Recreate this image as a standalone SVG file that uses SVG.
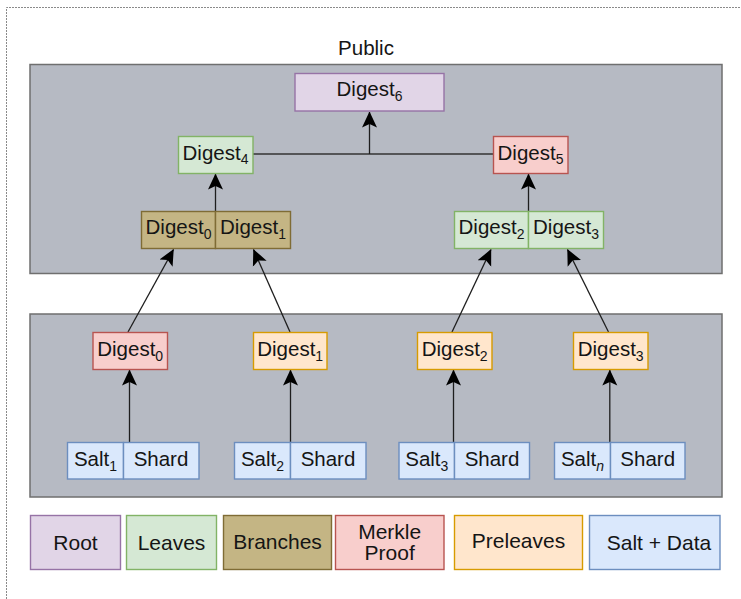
<svg xmlns="http://www.w3.org/2000/svg" width="741" height="599" viewBox="0 0 741 599">
<defs>
<style>
text{font-family:"Liberation Sans",Arial,sans-serif;font-size:20.5px;fill:#151515;text-anchor:middle}
.sub{font-size:14px}
.lg{font-size:21px}
.panel{fill:#b6bac3;stroke:#6f6f6f;stroke-width:1.5}
.n{stroke-width:1.4}
.root{fill:#e1d5e7;stroke:#9673a6}
.leaf{fill:#d5e8d4;stroke:#82b366}
.br{fill:#c4b584;stroke:#7f6c35}
.mp{fill:#f8cecc;stroke:#b85450}
.pre{fill:#ffe6cc;stroke:#d79b00}
.sd{fill:#dae8fc;stroke:#6c8ebf}
.e{fill:none;stroke:#1e1e1e;stroke-width:1.3}
.h{stroke:#333;stroke-width:1.7}
.ea{marker-end:url(#arr)}
</style>
<marker id="arr" viewBox="0 0 16 16" refX="15.5" refY="8" markerWidth="16" markerHeight="16" markerUnits="userSpaceOnUse" orient="auto">
<path d="M16,8 L0,0.5 L3.5,8 L0,15.5 Z" fill="#000"/>
</marker>
</defs>
<rect width="741" height="599" fill="#fff"/>
<path d="M6.5,599 V7.5 H741" fill="none" stroke="#8a8a8a" stroke-width="1" stroke-dasharray="2 1"/>
<text id="label-public" x="366" y="55">Public</text>
<rect id="panel-public" class="panel" x="30" y="64.5" width="692" height="209"/>
<rect id="panel-private" class="panel" x="30" y="314" width="692" height="183"/>

<g id="connectors">
<path class="e h" d="M253,154 H493"/>
<path class="e ea" d="M369.5,154 V112"/>
<path class="e ea" d="M215.5,211.5 V174"/>
<path class="e ea" d="M528.5,211.5 V174"/>
<path class="e ea" d="M128,332 L173.5,249.5"/>
<path class="e ea" d="M290,332 L253.5,249.5"/>
<path class="e ea" d="M452,332 L491,249.5"/>
<path class="e ea" d="M608.5,332 L567.5,249.5"/>
<path class="e ea" d="M129.5,442.5 V370"/>
<path class="e ea" d="M290.5,442.5 V370"/>
<path class="e ea" d="M453.5,442.5 V370"/>
<path class="e ea" d="M609.8,442.5 V370"/>
</g>

<g id="digest6"><rect class="n root" x="295" y="73.5" width="149" height="37.5"/><text x="369.5" y="96">Digest<tspan class="sub" dy="4.5">6</tspan></text></g>
<g id="digest4"><rect class="n leaf" x="178.5" y="136.5" width="74.5" height="37"/><text x="215.5" y="159.5">Digest<tspan class="sub" dy="4.5">4</tspan></text></g>
<g id="digest5"><rect class="n mp" x="493.5" y="136.5" width="74.5" height="37"/><text x="530.5" y="159.5">Digest<tspan class="sub" dy="4.5">5</tspan></text></g>

<g id="branch-01">
<rect class="n br" x="141.5" y="211.5" width="74" height="37"/><rect class="n br" x="215.5" y="211.5" width="75" height="37"/>
<text x="178.5" y="234">Digest<tspan class="sub" dy="4.5">0</tspan></text>
<text x="253" y="234">Digest<tspan class="sub" dy="4.5">1</tspan></text>
</g>
<g id="leaves-23">
<rect class="n leaf" x="454.5" y="211.5" width="74" height="37"/><rect class="n leaf" x="528.5" y="211.5" width="75" height="37"/>
<text x="491.5" y="234">Digest<tspan class="sub" dy="4.5">2</tspan></text>
<text x="566" y="234">Digest<tspan class="sub" dy="4.5">3</tspan></text>
</g>

<g id="pre-digest0"><rect class="n mp" x="93" y="332.5" width="74.5" height="37"/><text x="130.2" y="356">Digest<tspan class="sub" dy="4.5">0</tspan></text></g>
<g id="pre-digest1"><rect class="n pre" x="253.5" y="332.5" width="73.5" height="37"/><text x="290.2" y="356">Digest<tspan class="sub" dy="4.5">1</tspan></text></g>
<g id="pre-digest2"><rect class="n pre" x="417.5" y="332.5" width="74.5" height="37"/><text x="454.7" y="356">Digest<tspan class="sub" dy="4.5">2</tspan></text></g>
<g id="pre-digest3"><rect class="n pre" x="573.5" y="332.5" width="74.5" height="37"/><text x="610.7" y="356">Digest<tspan class="sub" dy="4.5">3</tspan></text></g>

<g id="salt1">
<rect class="n sd" x="67.5" y="442.5" width="56" height="36.5"/><rect class="n sd" x="123.5" y="442.5" width="75.5" height="36.5"/>
<text x="95.5" y="466">Salt<tspan class="sub" dy="4.5">1</tspan></text><text x="161" y="466">Shard</text>
</g>
<g id="salt2">
<rect class="n sd" x="234.5" y="442.5" width="56" height="36.5"/><rect class="n sd" x="290.5" y="442.5" width="75.5" height="36.5"/>
<text x="262.5" y="466">Salt<tspan class="sub" dy="4.5">2</tspan></text><text x="328" y="466">Shard</text>
</g>
<g id="salt3">
<rect class="n sd" x="399" y="442.5" width="55.5" height="36.5"/><rect class="n sd" x="454.5" y="442.5" width="75" height="36.5"/>
<text x="426.8" y="466">Salt<tspan class="sub" dy="4.5">3</tspan></text><text x="492" y="466">Shard</text>
</g>
<g id="saltn">
<rect class="n sd" x="554.5" y="442.5" width="56" height="36.5"/><rect class="n sd" x="610.5" y="442.5" width="74.5" height="36.5"/>
<text x="582.5" y="466">Salt<tspan class="sub" dy="4.5" font-style="italic">n</tspan></text><text x="647.7" y="466">Shard</text>
</g>

<g id="legend-root"><rect class="n root" x="30.5" y="515.5" width="90" height="54"/><text class="lg" x="75.5" y="549.5">Root</text></g>
<g id="legend-leaves"><rect class="n leaf" x="126.5" y="515.5" width="90" height="54"/><text class="lg" x="171.5" y="549.5">Leaves</text></g>
<g id="legend-branches"><rect class="n br" x="223.5" y="515.5" width="108" height="54"/><text class="lg" x="277.5" y="549">Branches</text></g>
<g id="legend-merkle"><rect class="n mp" x="335.5" y="515.5" width="108.5" height="54"/><text class="lg" x="389.7" y="538.5">Merkle</text><text class="lg" x="389.7" y="559.5">Proof</text></g>
<g id="legend-preleaves"><rect class="n pre" x="454.5" y="515.5" width="128" height="54"/><text class="lg" x="518.5" y="548">Preleaves</text></g>
<g id="legend-saltdata"><rect class="n sd" x="589.5" y="515.5" width="130.5" height="54"/><text class="lg" x="659" y="550">Salt + Data</text></g>
</svg>
